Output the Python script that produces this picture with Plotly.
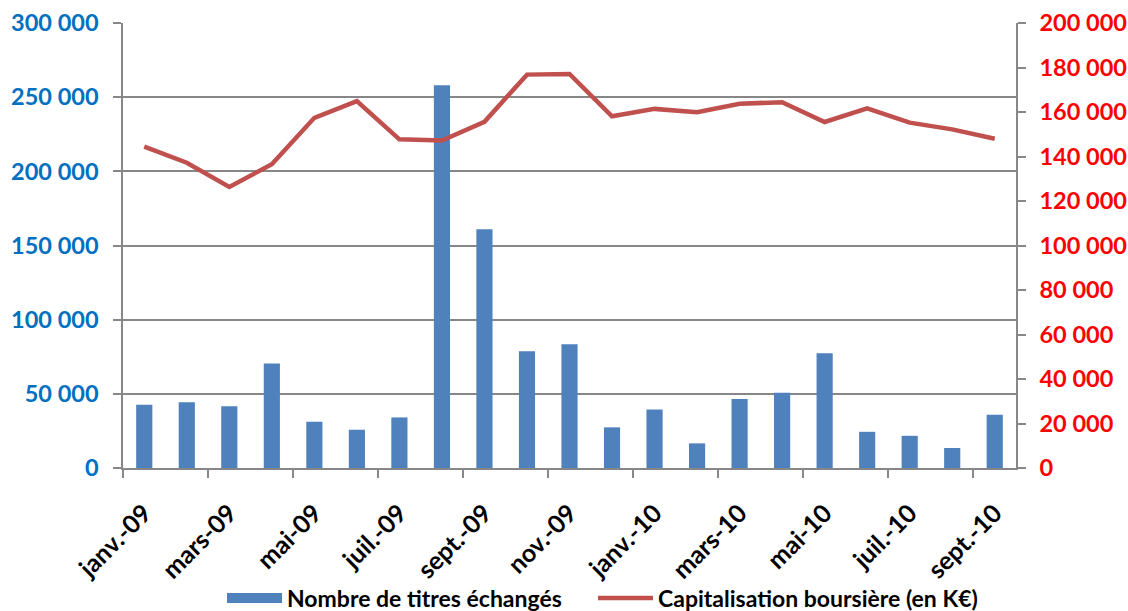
import plotly.graph_objects as go

months = ["janv.-09", "févr.-09", "mars-09", "avr.-09", "mai-09", "juin-09", "juil.-09",
          "août-09", "sept.-09", "oct.-09", "nov.-09", "déc.-09", "janv.-10", "févr.-10",
          "mars-10", "avr.-10", "mai-10", "juin-10", "juil.-10", "août-10", "sept.-10"]
titres = [42600, 44400, 41700, 70400, 31200, 25800, 34100, 258000, 161000, 78700, 83400,
          27400, 39500, 16600, 46600, 50700, 77400, 24400, 21700, 13500, 35900]
capitalisation = [144400, 137200, 126300, 136500, 157400, 164900, 147700, 147200, 155600,
                  176800, 177100, 158100, 161400, 159900, 163700, 164400, 155500, 161600,
                  155200, 152200, 148000]

FONT = "Lato"
BLUE = "#4F81BD"
RED = "#C0504D"
fig = go.Figure()
fig.add_trace(go.Bar(x=months, y=titres, name="Nombre de titres échangés",
                     marker=dict(color=BLUE, line=dict(width=0)), width=0.38,
                     yaxis="y", showlegend=False, legendgroup="b"))
# legend-only entry so the bar's legend swatch is a wide rectangle
fig.add_trace(go.Scatter(x=[None], y=[None], name="Nombre de titres échangés",
                         mode="lines", line=dict(color=BLUE, width=13), legendgroup="b",
                         yaxis="y", legend="legend"))
fig.add_trace(go.Scatter(x=months, y=capitalisation, name="Capitalisation boursière (en K€)",
                         mode="lines", line=dict(color=RED, width=4.5),
                         yaxis="y2", legend="legend2"))

legend_common = dict(orientation="h", xref="container", xanchor="left",
                     yref="container", y=0.0213, yanchor="middle",
                     font=dict(family=FONT, size=23, color="black", weight="bold"),
                     itemwidth=55, bgcolor="rgba(0,0,0,0)")

fig.update_layout(
    width=1128, height=611,
    margin=dict(l=123, r=112, t=23, b=143),
    paper_bgcolor="white", plot_bgcolor="white",
    separators=", ",
    font=dict(family=FONT, size=22, color="black"),
    showlegend=True,
    legend=dict(x=222 / 1128, **legend_common),
    legend2=dict(x=593 / 1128, **legend_common),
    xaxis=dict(type="category", range=[-0.5, 20.5], tickson="boundaries", dtick=2,
               tickangle=-45, showgrid=False, showline=True, linecolor="#878787", linewidth=1.5,
               ticks="outside", ticklen=8, tickcolor="#878787", tickwidth=1.5, automargin=False,
               ticklabelstandoff=19,
               tickfont=dict(family=FONT, size=25, color="black", weight="bold")),
    yaxis=dict(range=[0, 300000], dtick=50000, tickformat=",d", showgrid=True,
               gridcolor="#878787", gridwidth=1.5, showline=True, linecolor="#878787",
               linewidth=1.5, ticks="outside", ticklen=8, tickcolor="#878787", tickwidth=1.5,
               zeroline=False, automargin=False, ticklabelstandoff=10,
               tickfont=dict(family=FONT, size=23.5, color="#0070C0", weight="bold")),
    yaxis2=dict(range=[0, 200000], dtick=20000, tickformat=",d", overlaying="y", side="right",
                showgrid=False, showline=True, linecolor="#878787", linewidth=1.5,
                ticks="outside", ticklen=8, tickcolor="#878787", tickwidth=1.5, zeroline=False,
                automargin=False, ticklabelstandoff=9,
                tickfont=dict(family=FONT, size=23.5, color="#FF0000", weight="bold")),
)

fig.write_html("out.html", config={"displayModeBar": False},
               post_script="document.body.style.margin='0';")
